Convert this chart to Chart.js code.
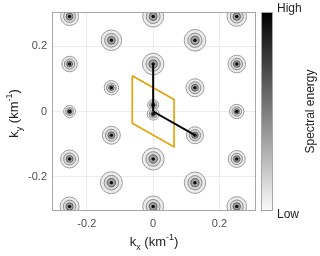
<!DOCTYPE html>
<html>
<head>
<meta charset="utf-8">
<script src="https://cdn.jsdelivr.net/npm/chart.js@4/dist/chart.umd.min.js"></script>
<style>
  html, body { margin: 0; padding: 0; background: #fff; }
  #wrap { width: 320px; height: 256px; }
</style>
</head>
<body>
<div id="wrap"><canvas id="myChart" width="320" height="256"></canvas></div>
<script>
// spectral peaks (km^-1) and their relative energy
const peakKx = [
  -0.252, -0.252, -0.252, -0.252, -0.252,
  -0.126, -0.126, -0.126, -0.126,
  0, 0, 0, 0, 0, 0,
  0.126, 0.126, 0.126, 0.126,
  0.252, 0.252, 0.252, 0.252, 0.252
];
const peakKy = [
  0.292, 0.146, 0, -0.146, -0.292,
  0.219, 0.073, -0.073, -0.219,
  0.292, 0.146, 0.02, -0.008, -0.146, -0.292,
  0.219, 0.073, -0.073, -0.219,
  0.292, 0.146, 0, -0.146, -0.292
];
const peakEnergy = [
  0.90, 0.78, 0.60, 0.90, 0.95,
  1.03, 0.72, 0.90, 1.10,
  1.05, 1.08, 0.55, 0.60, 1.10, 1.05,
  1.08, 0.90, 0.85, 1.07,
  0.98, 0.88, 0.72, 0.85, 0.98
];

// reciprocal cell (orange) and lattice vectors (black)
const cellKx = [-0.063, 0.063, 0.063, -0.063, -0.063];
const cellKy = [0.110, 0.037, -0.109, -0.036, 0.110];
const vecAKx = [0, 0];
const vecAKy = [0, 0.146];
const vecBKx = [0, 0.126];
const vecBKy = [0, -0.073];

const xTicks = [-0.2, 0, 0.2];
const yTicks = [-0.2, 0, 0.2];

document.addEventListener('DOMContentLoaded', function() {
  const ctx = document.getElementById('myChart').getContext('2d');

  const peaks = peakKx.map((x, i) => ({ x: x, y: peakKy[i] }));
  const toPts = (xs, ys) => xs.map((x, i) => ({ x: x, y: ys[i] }));

  // contour rings, outer to inner
  const rings = [
    { f: 10.0, fill: '#ececec', line: '#9c9c9c', order: 13 },
    { f: 6.6, fill: '#dadada', line: '#8a8a8a', order: 12 },
    { f: 3.8, fill: '#a4a4a4', line: '#5c5c5c', order: 11 },
    { f: 1.7, fill: '#111111', line: '#000000', order: 10 }
  ];

  const ringSets = rings.map((r, k) => ({
    data: peaks,
    order: r.order,
    backgroundColor: r.fill,
    borderColor: r.line,
    borderWidth: k === 3 ? 0 : 1,
    pointRadius: c => k === 3 ? 1.8 : r.f * peakEnergy[c.dataIndex],
    pointHoverRadius: c => k === 3 ? 1.8 : r.f * peakEnergy[c.dataIndex]
  }));

  const lineSet = (pts, color, w, order) => ({
    data: pts,
    showLine: true,
    order: order,
    borderColor: color,
    borderWidth: w,
    pointRadius: 0,
    fill: false
  });

  // box, colourbar and titles with sub/superscripts
  const decor = {
    id: 'decor',
    afterDatasetsDraw(chart) {
      const a = chart.chartArea;
      const g = chart.ctx;
      g.save();
      g.strokeStyle = '#a6a6a6';
      g.lineWidth = 1;
      g.strokeRect(a.left + 0.5, a.top + 0.5, a.right - a.left - 1, a.bottom - a.top - 1);
      g.restore();
    },
    afterDraw(chart) {
      const a = chart.chartArea;
      const g = chart.ctx;
      g.save();

      // colourbar
      const bx = 261, bw = 12;
      const grad = g.createLinearGradient(0, a.top, 0, a.bottom);
      grad.addColorStop(0, '#000000');
      grad.addColorStop(1, '#fbfbfb');
      g.fillStyle = grad;
      g.fillRect(bx, a.top, bw, a.bottom - a.top);
      g.strokeStyle = '#a6a6a6';
      g.strokeRect(bx + 0.5, a.top + 0.5, bw - 1, a.bottom - a.top - 1);

      g.fillStyle = '#222';
      g.font = '12px "Liberation Sans", Arial, sans-serif';
      g.textAlign = 'left';
      g.textBaseline = 'alphabetic';
      g.fillText('High', 277, 12);
      g.fillText('Low', 277, 218);

      g.save();
      g.translate(311, (a.top + a.bottom) / 2);
      g.rotate(-Math.PI / 2);
      g.textAlign = 'center';
      g.textBaseline = 'middle';
      g.fillText('Spectral energy', 0, 0);
      g.restore();

      // axis titles
      function kTitle(sub) {
        const big = '13px "Liberation Sans", Arial, sans-serif';
        const small = '9px "Liberation Sans", Arial, sans-serif';
        const parts = [
          { t: 'k', f: big, dy: 0 },
          { t: sub, f: small, dy: 4 },
          { t: ' (km', f: big, dy: 0 },
          { t: '-1', f: small, dy: -6 },
          { t: ')', f: big, dy: 0 }
        ];
        let w = 0;
        parts.forEach(p => { g.font = p.f; p.w = g.measureText(p.t).width; w += p.w; });
        let x = -w / 2;
        g.textAlign = 'left';
        g.textBaseline = 'alphabetic';
        parts.forEach(p => { g.font = p.f; g.fillText(p.t, x, p.dy); x += p.w; });
      }
      g.fillStyle = '#222';
      g.save();
      g.translate((a.left + a.right) / 2, 246);
      kTitle('x');
      g.restore();
      g.save();
      g.translate(18, (a.top + a.bottom) / 2 + 2);
      g.rotate(-Math.PI / 2);
      kTitle('y');
      g.restore();

      g.restore();
    }
  };

  new Chart(ctx, {
    type: 'scatter',
    data: {
      datasets: [
        lineSet(toPts(vecAKx, vecAKy), '#000000', 2, 0),
        lineSet(toPts(vecBKx, vecBKy), '#000000', 2, 0),
        lineSet(toPts(cellKx, cellKy), '#e69f00', 1.6, 1)
      ].concat(ringSets)
    },
    options: {
      responsive: false,
      devicePixelRatio: 1,
      animation: false,
      layout: { padding: { top: 7, right: 64, left: 0, bottom: 0 } },
      plugins: {
        legend: { display: false },
        tooltip: { enabled: false }
      },
      scales: {
        x: {
          type: 'linear',
          min: -0.305,
          max: 0.31,
          afterBuildTicks: s => { s.ticks = xTicks.map(v => ({ value: v })); },
          afterFit: s => { s.height = 45; },
          ticks: {
            padding: 6,
            color: '#4d4d4d',
            font: { size: 11, family: '"Liberation Sans", Arial, sans-serif' },
            callback: v => v === 0 ? '0' : v.toFixed(1)
          },
          grid: { color: '#ececec', drawTicks: false },
          border: { display: false }
        },
        y: {
          type: 'linear',
          min: -0.306,
          max: 0.306,
          afterBuildTicks: s => { s.ticks = yTicks.map(v => ({ value: v })); },
          afterFit: s => { s.width = 52; },
          ticks: {
            padding: 5,
            color: '#4d4d4d',
            font: { size: 11, family: '"Liberation Sans", Arial, sans-serif' },
            callback: v => v === 0 ? '0' : v.toFixed(1)
          },
          grid: { color: '#ececec', drawTicks: false },
          border: { display: false }
        }
      }
    },
    plugins: [decor]
  });
});
</script>
</body>
</html>
